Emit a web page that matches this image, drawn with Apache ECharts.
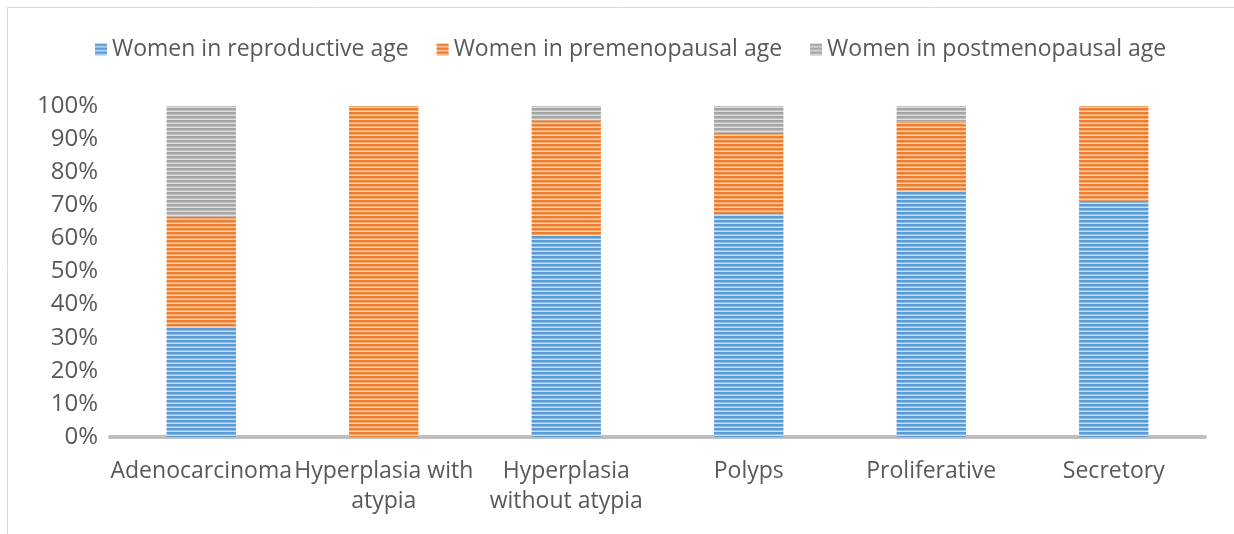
<!DOCTYPE html>
<html>
<head>
<meta charset="utf-8">
<script src="https://cdn.jsdelivr.net/npm/echarts@6/dist/echarts.min.js"></script>
<style>
  html, body { margin: 0; padding: 0; background: #fff; }
  #chart { width: 1234px; height: 534px; }
</style>
</head>
<body>
<div id="chart"></div>
<script>
const categories = ['Adenocarcinoma', 'Hyperplasia with\natypia', 'Hyperplasia\nwithout atypia', 'Polyps', 'Proliferative', 'Secretory']
const reproductive = [33.3, 0, 60.9, 67.3, 74.4, 71.4]
const premenopausal = [33.3, 100, 34.8, 24.6, 20.9, 28.6]
const postmenopausal = [33.4, 0, 4.3, 8.1, 4.7, 0]
const seriesNames = ['Women in reproductive age', 'Women in premenopausal age', 'Women in postmenopausal age']

// horizontal stripes like the excel "narrow horizontal" fill
function stripes(dark, mid, light) {
  const c = document.createElement('canvas')
  c.width = 4
  c.height = 4
  const ctx = c.getContext('2d')
  ctx.fillStyle = light
  ctx.fillRect(0, 0, 4, 4)
  ctx.fillStyle = dark
  ctx.fillRect(0, 0, 4, 2)
  ctx.fillStyle = mid
  ctx.fillRect(0, 2, 4, 1)
  return { image: c, repeat: 'repeat' }
}

const fills = [
  stripes('#5b9bd5', '#8fbbe4', '#c9dff3'),
  stripes('#ed7d31', '#f3a56e', '#fad2b6'),
  stripes('#a5a5a5', '#c0c0c0', '#dedede')
]

const font = '"Open Sans", sans-serif'
const chart = echarts.init(document.getElementById('chart'))

chart.setOption({
  animation: false,
  textStyle: { fontFamily: font },
  graphic: [{
    type: 'rect',
    shape: { x: 7.5, y: 7.5, width: 1240, height: 540 },
    style: { fill: 'none', stroke: '#d9d9d9', lineWidth: 1 }
  }],
  legend: {
    top: 33,
    left: 90,
    itemWidth: 12,
    itemHeight: 12,
    itemGap: 28,
    icon: 'rect',
    textStyle: { fontSize: 23, color: '#595959', fontFamily: font },
    data: seriesNames
  },
  grid: {
    left: 110,
    right: 29,
    top: 106,
    bottom: 97
  },
  xAxis: {
    type: 'category',
    data: categories,
    axisLine: { lineStyle: { color: '#bfbfbf', width: 4 } },
    axisTick: { show: false },
    axisLabel: {
      interval: 0,
      color: '#595959',
      fontSize: 23,
      lineHeight: 30,
      margin: 19,
      fontFamily: font
    }
  },
  yAxis: {
    type: 'value',
    min: 0,
    max: 100,
    interval: 10,
    axisLine: { show: false },
    axisTick: { show: false },
    splitLine: { show: false },
    axisLabel: {
      formatter: '{value}%',
      color: '#595959',
      fontSize: 24,
      margin: 12,
      fontFamily: font
    }
  },
  series: [
    { name: seriesNames[0], type: 'bar', stack: 'total', barWidth: '38%', data: reproductive, itemStyle: { color: fills[0] } },
    { name: seriesNames[1], type: 'bar', stack: 'total', barWidth: '38%', data: premenopausal, itemStyle: { color: fills[1] } },
    { name: seriesNames[2], type: 'bar', stack: 'total', barWidth: '38%', data: postmenopausal, itemStyle: { color: fills[2] } }
  ]
})
</script>
</body>
</html>
